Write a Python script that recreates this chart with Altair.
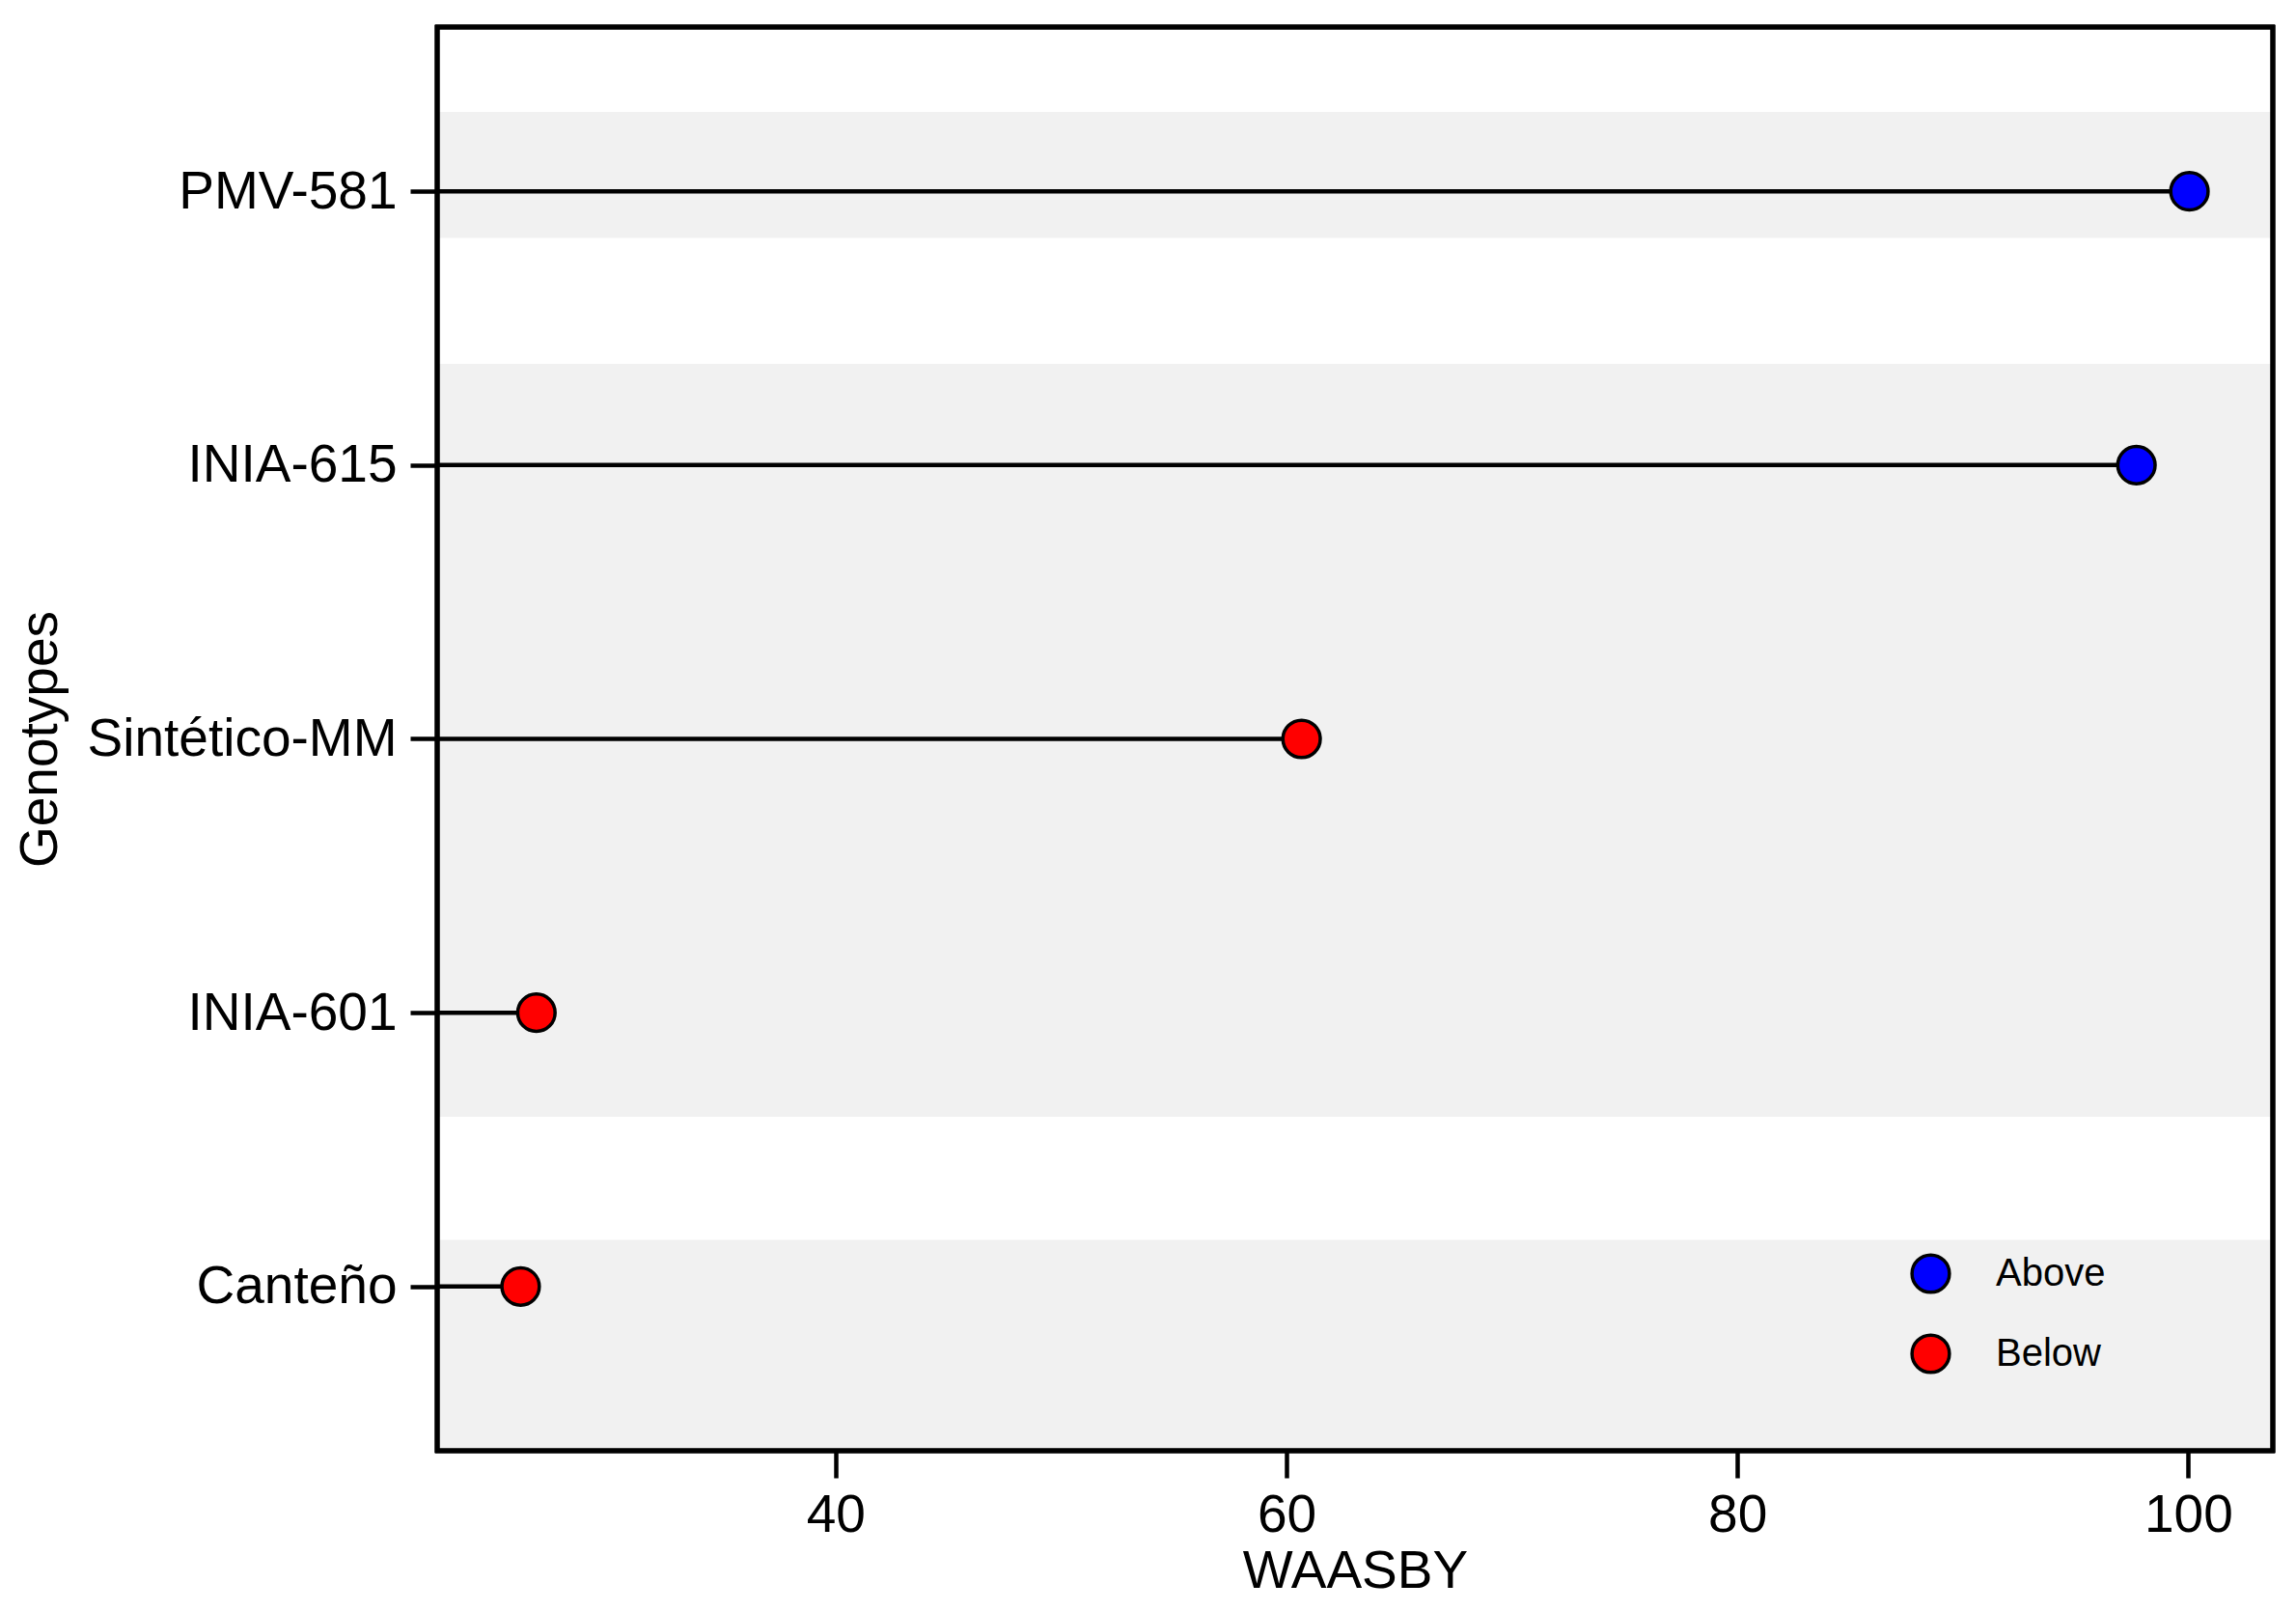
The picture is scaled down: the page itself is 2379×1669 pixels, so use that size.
import altair as alt
import pandas as pd

# Data
genotypes = ["Canteño", "INIA-601", "Sintético-MM", "INIA-615", "PMV-581"]
positions = [1, 2, 3, 4, 5]
waasby = [26.03, 26.73, 60.67, 97.7, 100.05]
groups = ["Below", "Below", "Below", "Above", "Above"]

# background stripes (in category-index units)
band_low = [0.3, 1.62, 4.83]
band_high = [1.17, 4.37, 5.29]

df = pd.DataFrame({"Genotype": genotypes, "pos": positions, "WAASBY": waasby, "Group": groups})
bands = pd.DataFrame({"lo": band_low, "hi": band_high})

W, H = 1902, 1475
FONT = "Liberation Sans"

label_list = "[''," + ",".join("'" + g + "'" for g in genotypes) + "]"

xscale = alt.Scale(domain=[22.33, 103.75], nice=False, zero=False)
yscale = alt.Scale(domain=[0.4, 5.6], nice=False, zero=False)

xaxis = alt.Axis(title="WAASBY", values=[40, 60, 80, 100], domain=False, grid=False,
                 ticks=True, tickSize=28, tickWidth=4.5, tickColor="black",
                 labelFont=FONT, labelFontSize=55, labelColor="black", labelPadding=12,
                 titleFont=FONT, titleFontSize=55, titleFontWeight="normal", titleColor="black",
                 titlePadding=4)
yaxis = alt.Axis(title="Genotypes", values=positions, domain=False, grid=False,
                 ticks=True, tickSize=28, tickWidth=4.5, tickColor="black",
                 labelFont=FONT, labelFontSize=55, labelColor="black", labelPadding=14,
                 labelLimit=800,
                 labelExpr=label_list + "[datum.value]",
                 titleFont=FONT, titleFontSize=55, titleFontWeight="normal", titleColor="black",
                 titleX=-412, titleY=H / 2, titleAngle=270, titleAlign="center",
                 titleBaseline="middle")

band_layer = alt.Chart(bands).mark_rect(color="#F1F1F1", clip=True).encode(
    x=alt.value(0), x2=alt.value(W),
    y=alt.Y("lo:Q", scale=yscale, axis=yaxis),
    y2="hi:Q",
)

rules = alt.Chart(df).mark_rule(color="black", strokeWidth=4.5, clip=True).encode(
    x=alt.X("WAASBY:Q", scale=xscale, axis=xaxis),
    x2=alt.datum(0),
    y=alt.Y("pos:Q", scale=yscale),
)

points = alt.Chart(df).mark_point(filled=True, shape="circle", size=1500, stroke="black",
                                  strokeWidth=3.5, opacity=1).encode(
    x=alt.X("WAASBY:Q", scale=xscale),
    y=alt.Y("pos:Q", scale=yscale),
    color=alt.Color("Group:N", scale=alt.Scale(domain=["Above", "Below"], range=["#0000FF", "#FF0000"]),
                    legend=alt.Legend(title=None, orient="none", legendX=1526, legendY=1270,
                                      symbolType="circle", symbolSize=1500, symbolStrokeColor="black",
                                      symbolStrokeWidth=3.5, symbolOpacity=1,
                                      labelFont=FONT, labelFontSize=40, labelColor="black",
                                      labelOffset=46, rowPadding=30, padding=0)),
)

frame = alt.Chart(df).mark_rect(fillOpacity=0, stroke="black", strokeWidth=4.5).encode(
    x=alt.value(0), x2=alt.value(W), y=alt.value(0), y2=alt.value(H)
)

chart = alt.layer(band_layer, rules, points, frame).properties(
    width=W, height=H,
    autosize=alt.AutoSizeParams(type="none"),
    padding={"left": 445, "top": 20, "right": 12, "bottom": 160},
).configure_view(stroke=None).configure(background="white")

chart.save("out.html", embed_options={"renderer": "svg", "actions": False})
